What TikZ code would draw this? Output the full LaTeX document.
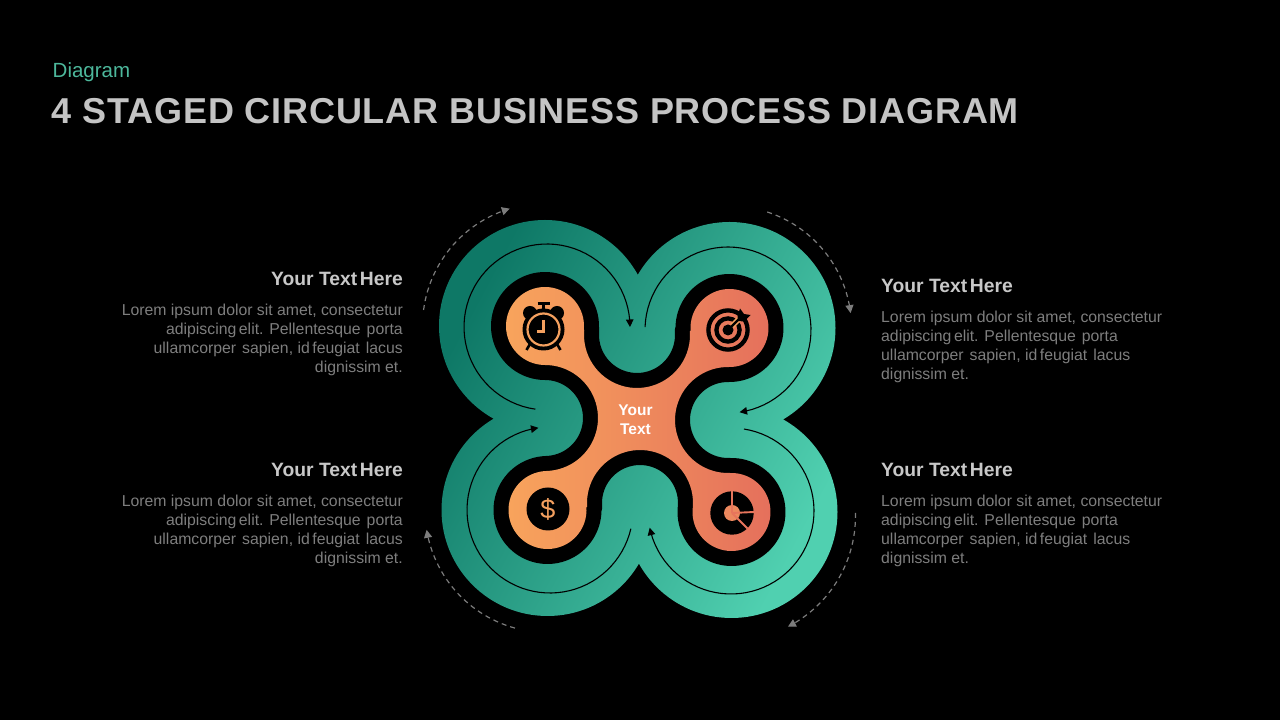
\documentclass[tikz,border=0pt]{standalone}
\usepackage{fontspec}
\setmainfont{Liberation Sans}
\newfontfamily\titlefont[LetterSpace=2.3]{Liberation Sans}
\usetikzlibrary{arrows.meta}
\definecolor{tealtxt}{HTML}{4DB89C}
\definecolor{titlegrey}{HTML}{C4C4C4}
\definecolor{headgrey}{HTML}{C8C8C8}
\definecolor{bodygrey}{HTML}{7E7E7E}
\definecolor{dashgrey}{HTML}{7C7C7C}
\definecolor{greenA}{HTML}{0E7866}
\definecolor{greenB}{HTML}{50D0B0}
\definecolor{orangeA}{HTML}{F8A45C}
\definecolor{orangeB}{HTML}{E5705C}
\definecolor{iconfill}{HTML}{F4A05F}
\newcommand{\dsp}{\hspace{6pt}}
\newcommand{\tsp}{\hspace{2.6pt}}
\newcommand{\lorem}{Lorem ipsum dolor sit amet, consectetur\\adipiscing\tsp elit. Pellentesque\dsp porta\\ullamcorper\dsp sapien, id\tsp feugiat\dsp lacus\\dignissim et.}
\tikzset{
  headtxt/.style={font=\fontsize{19.3}{23}\selectfont\bfseries,text=headgrey,inner sep=0pt},
  bodyR/.style={font=\fontsize{15.8}{19}\selectfont,text=bodygrey,inner sep=0pt,align=right,anchor=north east},
  bodyL/.style={font=\fontsize{15.8}{19}\selectfont,text=bodygrey,inner sep=0pt,align=left,anchor=north west},
  flow/.style={black,line width=1.1pt,-{Triangle[length=7.5pt,width=7.5pt]}},
  cycleflow/.style={dashgrey,line width=1.2pt,dash pattern=on 5pt off 4pt,-{Triangle[length=8pt,width=8pt]}},
}
\def\orangepath{
  plot[domain=270:-5.6,samples=60] ({545+39*cos(\x)},{394+39*sin(\x)})
  -- plot[domain=174.4:364.3,samples=40] ({637+53*cos(\x)},{385+53*sin(\x)})
  -- plot[domain=184.3:-91,samples=60] ({729.5+39*cos(\x)},{392+39*sin(\x)})
  -- plot[domain=89:272.2,samples=40] ({728+53*cos(\x)},{300+53*sin(\x)})
  -- plot[domain=92.2:-185.6,samples=60] ({731.5+39*cos(\x)},{208+39*sin(\x)})
  -- plot[domain=-5.6:184.3,samples=40] ({640+53*cos(\x)},{217+53*sin(\x)})
  -- plot[domain=4.3:-268.4,samples=60] ({547.5+39*cos(\x)},{210+39*sin(\x)})
  -- plot[domain=-88.4:90,samples=40] ({545+53*cos(\x)},{302+53*sin(\x)})
  -- cycle
}
\begin{document}
\begin{tikzpicture}[x=1pt,y=1pt]
\fill[black] (0,0) rectangle (1280,720);
\useasboundingbox (0,0) rectangle (1280,720);

% titles
\node[anchor=base west,inner sep=0pt,text=tealtxt,font=\fontsize{20.5}{24}\selectfont] (kicker) at (52.5,642.5) {Diagram};
\node[anchor=base west,inner sep=0pt,text=titlegrey,font=\titlefont\fontsize{36}{42}\selectfont\bfseries] (title) at (51.5,596) {4 STAGED CIRCULAR BUSINESS PROCESS DIAGRAM};

% green lobes
\shade[top color=greenA,bottom color=greenB,shading angle=62]
  (545,394) circle[radius=106]
  (729.5,392) circle[radius=106]
  (547.5,210) circle[radius=106]
  (731.5,208) circle[radius=106]
  (638,301) circle[radius=95];

% black band and orange core
\draw[black,line width=30pt,line join=round] \orangepath;
\shade[left color=orangeA,right color=orangeB] \orangepath;

% thin inner arrows
\draw[flow] plot[domain=262:0,samples=60] ({547+83*cos(\x)},{393+83*sin(\x)});
\draw[flow] plot[domain=178:-82,samples=60] ({728+83*cos(\x)},{390+83*sin(\x)});
\draw[flow] plot[domain=-13:-262,samples=60] ({550+83*cos(\x)},{210+83*sin(\x)});
\draw[flow] plot[domain=81:-168.4,samples=60] ({731+83*cos(\x)},{209+83*sin(\x)});

% outer dashed arrows
\draw[cycleflow] plot[domain=172.5:106.7,samples=30] ({545+122.5*cos(\x)},{394+122.5*sin(\x)});
\draw[cycleflow] plot[domain=72:7,samples=30] ({729.5+122*cos(\x)},{392+122*sin(\x)});
\draw[cycleflow] plot[domain=254.6:189.3,samples=30] ({547.5+122.5*cos(\x)},{210+122.5*sin(\x)});
\draw[cycleflow] plot[domain=1.4:-62.8,samples=30] ({731+124.5*cos(\x)},{204+124.5*sin(\x)});

% icons, in screen coordinates
\begin{scope}[yshift=720pt,yscale=-1]
  % clock
  \fill[black] (530,313) circle[radius=7] (557,313) circle[radius=7];
  \fill[black] (543.5,329.5) circle[radius=21];
  \draw[iconfill,line width=2.2pt] (543.5,329.5) circle[radius=16];
  \draw[black,line width=2.4pt] (543.5,303) -- (543.5,311);
  \draw[black,line width=2.8pt] (537.5,303.5) -- (549.5,303.5);
  \draw[black,line width=2.6pt] (530,344) -- (526.5,350);
  \draw[black,line width=2.6pt] (557,344) -- (560.5,350);
  \draw[iconfill,line width=2.4pt,line join=miter] (543.5,320) -- (543.5,331.5) -- (536.5,331.5);
  % target
  \draw[black,line width=4.3pt] (728,330) circle[radius=19.6];
  \draw[black,line width=4.3pt] (728,330) circle[radius=11.6];
  \fill[black] (728,330) circle[radius=5.5];
  \draw[iconfill,line width=5.5pt] (732,326) -- (742,316);
  \draw[black,line width=2.4pt] (728,330) -- (742,316);
  \fill[black] (737.5,316) -- (740,308.5) -- (744,314) -- (750.5,315) -- (744,321.5) -- (738,321) -- cycle;
  % dollar
  \fill[black] (548,509) circle[radius=21.5];
  % pie
  \fill[black] (732,513) circle[radius=21.7];
  \fill[iconfill!50!orangeB] (732,513) circle[radius=8];
  \draw[orangeB!90!iconfill,line width=1.9pt] (732,513) -- (732,491);
  \draw[orangeB!90!iconfill,line width=1.9pt] (732,513) -- (754,512);
  \draw[orangeB!90!iconfill,line width=1.9pt] (732,513) -- (747.5,528.5);
\end{scope}
\node[inner sep=0pt,text=iconfill,font=\fontsize{27}{27}\selectfont] (dollar) at (548,211) {\$};

% centre label
\node[inner sep=0pt,text=white,align=center,font=\fontsize{15.5}{19}\selectfont\bfseries] (centre) at (635.5,300.5) {Your\\Text};

% side texts
\node[headtxt,anchor=base east] (h1) at (403,434.5) {Your Text\tsp Here};
\node[bodyR] (b1) at (403,416) {\lorem};
\node[headtxt,anchor=base east] (h3) at (403,243.5) {Your Text\tsp Here};
\node[bodyR] (b3) at (403,225) {\lorem};
\node[headtxt,anchor=base west] (h2) at (881,427.5) {Your Text\tsp Here};
\node[bodyL] (b2) at (881,409) {\lorem};
\node[headtxt,anchor=base west] (h4) at (881,243.5) {Your Text\tsp Here};
\node[bodyL] (b4) at (881,225) {\lorem};
\end{tikzpicture}
\end{document}
